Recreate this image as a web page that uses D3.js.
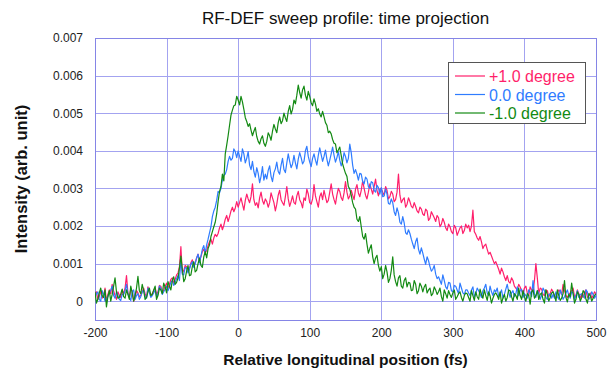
<!DOCTYPE html>
<html>
<head>
<meta charset="utf-8">
<script src="https://cdn.jsdelivr.net/npm/d3@7"></script>
<style>
  html, body { margin: 0; padding: 0; background: #ffffff; }
  svg { display: block; font-family: "Liberation Sans", Arial, sans-serif; }
</style>
</head>
<body>
<svg id="chart" width="615" height="371"></svg>
<script>
// Sample grid along the longitudinal axis (fs)
const positionStart = -200, positionEnd = 500, positionStep = 2;

// Intensities are stored in units of 1e-5 (arb. unit)
const intensityUnit = 1e-5;

const seriesNames = ["+1.0 degree", "0.0 degree", "-1.0 degree"];

const plusOneDeg = [
  18,25, 5,12, 28,8, 12,35, 0,18, 30,20, 45,28, 15,5, 25,15, 10,30,
  20,35, 68,22, 12,30, 28,0, 8,28, 22,12, 15,25, 35,20, 10,38, 25,15,
  20,28, 35,18, 25,42, 40,22, 30,40, 48,35, 45,58, 62,48, 58,70, 75,92,
  145,75, 82,95, 92,80, 88,102, 110,95, 102,115, 125,108, 118,132, 138,128, 135,148,
  158,165, 152,168, 178,172, 180,195, 205,190, 202,218, 228,212, 225,240, 250,238, 248,265,
  250,262, 275,258, 242,268, 285,272, 262,278, 312,270, 255,262, 248,275, 290,268, 258,272,
  265,250, 262,288, 275,262, 240,258, 282,295, 270,262, 255,278, 305,272, 252,265, 280,262,
  258,280, 292,270, 262,248, 275,268, 298,285, 262,258, 272,310, 280,265, 250,278, 288,270,
  295,278, 262,268, 290,312, 285,270, 258,282, 300,292, 275,268, 288,318, 290,272, 280,295,
  282,270, 298,310, 288,278, 295,320, 300,282, 272,290, 312,298, 285,305, 325,295, 280,298,
  300,290, 282,305, 295,272, 278,292, 285,265, 270,290, 338,282, 262,270, 275,250, 258,275,
  265,252, 248,262, 252,240, 235,250, 245,232, 228,245, 240,215, 220,238, 230,222, 212,228,
  222,198, 205,220, 210,195, 188,205, 198,185, 180,202, 195,175, 185,195, 200,180, 188,205,
  195,202, 185,200, 242,185, 178,168, 162,172, 158,140, 148,152, 138,125, 130,120, 110,100,
  105,95, 85,72, 88,78, 65,55, 68,52, 48,62, 55,40, 35,30, 45,38, 28,22,
  35,40, 22,15, 38,30, 25,55, 100,62, 20,35, 32,18, 15,30, 28,12, 20,32,
  25,10, 12,22, 30,25, 18,45, 28,15, 10,18, 22,28, 35,12, 15,30, 20,8,
  18,10, 25,30, 10,15, 22,8, 15,25, 20
];

const zeroDeg = [
  10,20, 25,5, 0,28, 18,0, 5,12, 22,30, 40,15, 8,25, 15,5, 2,18,
  18,28, 45,20, 10,2, 25,30, 5,15, 20,5, 12,25, 30,12, 8,35, 22,10,
  15,22, 30,12, 20,40, 35,18, 25,32, 40,28, 38,50, 55,42, 50,60, 68,55,
  110,72, 70,90, 88,75, 85,98, 105,90, 100,115, 125,102, 120,138, 148,128, 150,165,
  182,198, 225,240, 250,268, 292,288, 300,322, 335,338, 350,372, 385,375, 380,405, 398,382,
  400,385, 372,405, 392,368, 380,398, 362,350, 372,345, 330,355, 340,315, 332,358, 322,338,
  325,348, 360,332, 318,342, 352,370, 345,338, 362,380, 350,342, 368,392, 372,355, 365,388,
  368,352, 378,395, 382,365, 372,400, 412,385, 370,358, 380,392, 375,362, 388,408, 390,372,
  385,402, 378,360, 375,392, 410,388, 370,382, 398,375, 360,372, 395,385, 368,380, 418,395,
  362,340, 350,338, 322,340, 338,318, 312,330, 325,305, 300,318, 315,295, 290,308, 302,285,
  302,278, 280,298, 285,260, 258,272, 262,238, 228,248, 235,210, 205,225, 208,182, 178,190,
  180,165, 152,140, 158,168, 138,125, 142,128, 112,98, 118,108, 92,80, 85,95, 72,60,
  65,55, 45,70, 55,38, 32,50, 48,28, 25,42, 40,30, 20,48, 35,22, 18,30,
  30,22, 15,30, 38,12, 20,35, 28,20, 10,28, 35,45, 22,15, 40,25, 15,30,
  25,35, 12,20, 30,8, 18,32, 45,25, 10,22, 28,12, 20,38, 15,28, 32,10,
  20,15, 8,30, 25,12, 55,20, 10,28, 22,5, 15,35, 28,10, 5,18, 20,8,
  18,8, 25,12, 5,30, 20,5, 12,22, 30,15, 8,25, 22,5, 15,28, 10,18,
  20,15, 8,30, 25,5, 12,25, 18,8, 15
];

const minusOneDeg = [
  25,-5, 5,22, 35,15, 10,30, -15,12, 28,0, 18,40, 62,25, 8,10, 20,32,
  12,8, 30,18, 5,40, 22,0, 15,35, 66,28, 20,45, 28,5, 10,25, 35,15,
  18,30, 40,5, 15,35, 30,20, 48,38, 22,52, 40,30, 55,65, 45,50, 62,88,
  120,85, 52,60, 80,95, 68,70, 92,105, 78,82, 100,115, 95,90, 118,132, 115,140,
  150,172, 185,198, 210,232, 265,292, 305,338, 320,392, 415,440, 468,495, 508,520, 522,545,
  535,522, 545,530, 510,488, 478,465, 472,455, 440,452, 462,438, 425,418, 432,440, 420,412,
  425,448, 440,428, 452,470, 458,448, 475,490, 472,480, 500,488, 478,505, 520,498, 510,535,
  525,548, 575,555, 540,562, 572,548, 535,558, 545,528, 520,538, 525,505, 512,498, 490,505,
  490,475, 468,448, 452,445, 430,420, 418,395, 402,410, 388,365, 352,340, 332,305, 298,282,
  262,250, 245,218, 212,225, 198,172, 165,180, 152,128, 140,150, 118,100, 115,122, 95,80,
  92,60, 72,95, 78,50, 60,82, 118,70, 52,40, 62,68, 40,35, 55,62, 38,50,
  48,28, 30,55, 45,20, 28,48, 40,25, 38,45, 22,30, 35,15, 20,38, 30,18,
  25,35, 12,0, 30,20, 8,28, 18,10, 22,30, 5,12, 20,25, 10,0, 15,22,
  20,10, 0,28, 15,2, 25,12, 5,32, 18,8, 30,15, 2,25, 14,-5, 8,18,
  22,15, 5,25, -5,8, 18,0, 10,30, 28,12, 0,20, 15,5, 35,15, 5,28,
  12,0, 20,15, -8,25, 30,8, 15,28, 5,18, 22,5, -5,30, 18,0, 10,22,
  25,15, 0,30, 15,2, 8,20, 55,10, -2,18, 12,48, 20,-5, 5,25, 18,0,
  10,28, 22,5, -5,20, 15,0, 8,15, 20
];

const xTickValues = [-200, -100, 0, 100, 200, 300, 400, 500];
const xTickLabels = ["-200", "-100", "0", "100", "200", "300", "400", "500"];
const yTickValues = [0, 0.001, 0.002, 0.003, 0.004, 0.005, 0.006, 0.007];
const yTickLabels = ["0", "0.001", "0.002", "0.003", "0.004", "0.005", "0.006", "0.007"];

const seriesColors = ["#ff1f6b", "#2f7cff", "#138a13"];

// ---- layout ----
const svg = d3.select("#chart");
const plot = { left: 95, right: 596, top: 38, bottom: 320 };

const x = d3.scaleLinear().domain([-200, 500]).range([plot.left, plot.right]);
const y = d3.scaleLinear().domain([-0.0005, 0.007]).range([plot.bottom, plot.top]);

const positions = d3.range(positionStart, positionEnd + 1, positionStep);
const allSeries = [plusOneDeg, zeroDeg, minusOneDeg].map((vals, i) => ({
  name: seriesNames[i],
  color: seriesColors[i],
  points: vals.map((v, j) => [positions[j], v * intensityUnit])
}));

const gridColor = "#a3a3f0";
const frameColor = "#8585e6";

// vertical grid
const gx = svg.append("g")
  .attr("transform", `translate(0,${plot.bottom})`)
  .call(d3.axisBottom(x).tickValues(xTickValues.slice(1, -1))
    .tickSize(-(plot.bottom - plot.top)).tickFormat(""));
gx.select(".domain").remove();
gx.selectAll("line").attr("stroke", gridColor).attr("stroke-width", 1).attr("shape-rendering", "crispEdges");

// horizontal grid
const gy = svg.append("g")
  .attr("transform", `translate(${plot.left},0)`)
  .call(d3.axisLeft(y).tickValues(yTickValues.slice(0, -1))
    .tickSize(-(plot.right - plot.left)).tickFormat(""));
gy.select(".domain").remove();
gy.selectAll("line").attr("stroke", gridColor).attr("stroke-width", 1).attr("shape-rendering", "crispEdges");

// frame
svg.append("rect")
  .attr("x", plot.left).attr("y", plot.top)
  .attr("width", plot.right - plot.left).attr("height", plot.bottom - plot.top)
  .attr("fill", "none").attr("stroke", frameColor).attr("stroke-width", 1)
  .attr("shape-rendering", "crispEdges");

// clip for the traces
svg.append("clipPath").attr("id", "plotClip")
  .append("rect")
  .attr("x", plot.left).attr("y", plot.top)
  .attr("width", plot.right - plot.left).attr("height", plot.bottom - plot.top);

const line = d3.line().x(d => x(d[0])).y(d => y(d[1]));

svg.append("g").attr("clip-path", "url(#plotClip)")
  .selectAll("path")
  .data(allSeries)
  .join("path")
  .attr("d", d => line(d.points))
  .attr("fill", "none")
  .attr("stroke", d => d.color)
  .attr("stroke-width", 1.2)
  .attr("stroke-linejoin", "round");

// tick labels
const xAxis = svg.append("g")
  .attr("transform", `translate(0,${plot.bottom})`)
  .call(d3.axisBottom(x).tickValues(xTickValues).tickSize(0).tickPadding(8)
    .tickFormat((d, i) => xTickLabels[i]));
xAxis.select(".domain").remove();
xAxis.selectAll("text").attr("font-size", 12).attr("fill", "#222")
  .attr("font-family", "\"Liberation Sans\", Arial, sans-serif");

const yAxis = svg.append("g")
  .attr("transform", `translate(${plot.left},0)`)
  .call(d3.axisLeft(y).tickValues(yTickValues).tickSize(0).tickPadding(12)
    .tickFormat((d, i) => yTickLabels[i]));
yAxis.select(".domain").remove();
yAxis.selectAll("text").attr("font-size", 12).attr("fill", "#222")
  .attr("font-family", "\"Liberation Sans\", Arial, sans-serif");

// title and axis titles
svg.append("text")
  .attr("x", (plot.left + plot.right) / 2).attr("y", 24)
  .attr("text-anchor", "middle").attr("font-size", 17).attr("fill", "#111")
  .text("RF-DEF sweep profile: time projection");

svg.append("text")
  .attr("x", (plot.left + plot.right) / 2).attr("y", 365)
  .attr("text-anchor", "middle").attr("font-size", 15.5).attr("font-weight", "bold").attr("fill", "#111")
  .text("Relative longitudinal position (fs)");

svg.append("text")
  .attr("transform", `translate(27,${(plot.top + plot.bottom) / 2}) rotate(-90)`)
  .attr("text-anchor", "middle").attr("font-size", 16.5).attr("font-weight", "bold").attr("fill", "#111")
  .text("Intensity (arb. unit)");

// legend
const legend = svg.append("g").attr("transform", "translate(448,62)");
legend.append("rect")
  .attr("width", 137).attr("height", 61)
  .attr("fill", "#ffffff").attr("stroke", "#555").attr("stroke-width", 1)
  .attr("shape-rendering", "crispEdges");
const rows = legend.selectAll("g.row").data(allSeries).join("g")
  .attr("class", "row")
  .attr("transform", (d, i) => `translate(0,${14 + i * 18.5})`);
rows.append("line")
  .attr("x1", 7).attr("x2", 37).attr("y1", 0).attr("y2", 0)
  .attr("stroke", d => d.color).attr("stroke-width", 1.2);
rows.append("text")
  .attr("x", 41).attr("y", 6)
  .attr("font-size", 16).attr("fill", d => d.color)
  .text(d => d.name);
</script>
</body>
</html>
